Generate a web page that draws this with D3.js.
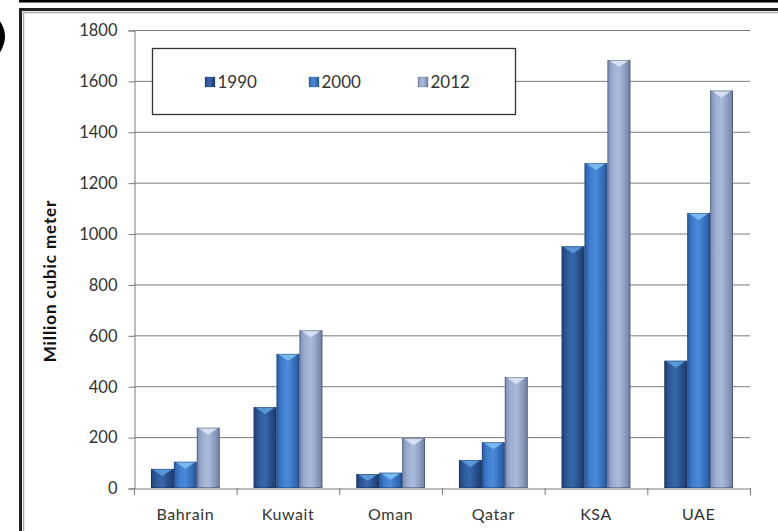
<!DOCTYPE html>
<html><head><meta charset="utf-8">
<script src="https://cdn.jsdelivr.net/npm/d3@7"></script>
<style>html,body{margin:0;padding:0;background:#fff;}svg{display:block;}</style>
</head><body>
<svg id="c" width="778" height="531"></svg>
<script>
const categories = ["Bahrain","Kuwait","Oman","Qatar","KSA","UAE"];
const seriesNames = ["1990","2000","2012"];
const v1990 = [75, 318, 55, 110, 950, 500];
const v2000 = [103, 527, 60, 180, 1277, 1081];
const v2012 = [237, 620, 196, 436, 1682, 1562];
const yTicks = [0,200,400,600,800,1000,1200,1400,1600,1800];
const yLabel = "Million cubic meter";

const values = [v1990, v2000, v2012];
const svg = d3.select("#c");
const font = "Lato, 'Open Sans', sans-serif";

// frame
svg.append("rect").attr("x",19).attr("y",0).attr("width",760).attr("height",2.5).attr("fill","#000");
svg.append("path").attr("d","M20.5,531 V9.5 H778").attr("fill","none").attr("stroke","#222").attr("stroke-width",3);
svg.append("path").attr("d","M23.5,531 V12.5 H778").attr("fill","none").attr("stroke","#aaa").attr("stroke-width",1.5);
// partial parenthesis on far left
svg.append("path").attr("d","M-4,16 Q14,36 -4,58 Q4,36 -4,16 Z").attr("fill","#000");

const x0 = d3.scaleBand().domain(categories).range([134,750]).padding(0);
const x1 = d3.scaleBand().domain(seriesNames).range([0,x0.bandwidth()]).paddingInner(0).paddingOuter(0.74);
const y = d3.scaleLinear().domain([0,1800]).range([488,30]);

// gradients
const defs = svg.append("defs");
const grads = [
  {id:"g0", stops:["#1f4277","#2e5c9c","#3767ab","#274f8a","#1b3c6c"], cap:"#5c9ee0"},
  {id:"g1", stops:["#2a5ea8","#3f7fd0","#4b8ada","#3670bc","#28569b"], cap:"#7dbff2"},
  {id:"g2", stops:["#7b8cb2","#9eb0d2","#aabbdb","#8e9fc3","#707f9f"], cap:"#dbe6f6"}
];
grads.forEach(g=>{
  const lg = defs.append("linearGradient").attr("id",g.id).attr("x1","0").attr("x2","1").attr("y1","0").attr("y2","0");
  g.stops.forEach((c,i)=>lg.append("stop").attr("offset",(i/(g.stops.length-1))).attr("stop-color",c));
});

// gridlines
svg.append("g").selectAll("line").data(yTicks.filter(t=>t>0)).join("line")
  .attr("x1",134).attr("x2",750).attr("y1",d=>y(d)+0.5).attr("y2",d=>y(d)+0.5)
  .attr("stroke","#7a7a7a").attr("stroke-width",1);

// y axis
const yAxis = d3.axisLeft(y).tickValues(yTicks).tickSize(6).tickPadding(11).tickFormat(d3.format("d"));
const ya = svg.append("g").attr("transform","translate(134.5,0.5)").call(yAxis);
ya.select(".domain").attr("stroke","#7a7a7a");
ya.selectAll(".tick line").attr("stroke","#7a7a7a");
ya.selectAll("text").attr("font-family",font).attr("font-size",16.5).attr("fill","#333");

// x axis
const xAxis = d3.axisBottom(x0).tickSize(0).tickPadding(20);
const xa = svg.append("g").attr("transform","translate(0,488.5)").call(xAxis);
xa.select(".domain").attr("stroke","#7a7a7a");
xa.selectAll("text").attr("font-family",font).attr("font-size",16).attr("letter-spacing",0.6).attr("fill","#333");
svg.append("g").selectAll("line").data(categories.concat(["end"])).join("line")
  .attr("x1",(d,i)=>134.5+i*x0.step()).attr("x2",(d,i)=>134.5+i*x0.step())
  .attr("y1",488).attr("y2",495).attr("stroke","#7a7a7a");

// bars
const groups = svg.append("g").selectAll("g").data(categories).join("g")
  .attr("transform",d=>`translate(${x0(d)},0)`);
seriesNames.forEach((s,si)=>{
  const bw = x1.bandwidth();
  groups.append("rect")
    .attr("x",x1(s)).attr("width",bw)
    .attr("y",(d,i)=>y(values[si][i])).attr("height",(d,i)=>y(0)-y(values[si][i]))
    .attr("fill",`url(#g${si})`);
  groups.append("path")
    .attr("d",(d,i)=>{
      const t=y(values[si][i]), l=x1(s), r=l+bw, cx=l+bw/2, h=Math.min(7,(y(0)-t));
      return `M${l+1},${t} L${r-1},${t} L${cx},${t+h} Z`;
    })
    .attr("fill",grads[si].cap).attr("opacity",0.9);
  groups.append("rect")
    .attr("x",x1(s)+0.5).attr("width",bw-1)
    .attr("y",(d,i)=>y(values[si][i])+0.5).attr("height",(d,i)=>Math.max(0,y(0)-y(values[si][i])-1))
    .attr("fill","none").attr("stroke","rgba(20,30,60,0.35)").attr("stroke-width",1);
});

// y label
svg.append("text").attr("transform","translate(56,281) rotate(-90)")
  .attr("text-anchor","middle").attr("font-family",font).attr("font-weight","bold")
  .attr("font-size",17).attr("letter-spacing",0.9).attr("fill","#111").text(yLabel);

// legend
svg.append("rect").attr("x",152.5).attr("y",48.5).attr("width",363).attr("height",66)
  .attr("fill","#fff").attr("stroke","#333").attr("stroke-width",1.3);
const legX = [205, 309, 418];
seriesNames.forEach((s,i)=>{
  svg.append("rect").attr("x",legX[i]).attr("y",77).attr("width",10).attr("height",10)
    .attr("fill",`url(#g${i})`).attr("stroke","rgba(20,30,60,0.4)").attr("stroke-width",0.5);
  svg.append("text").attr("x",legX[i]+12.5).attr("y",88).attr("font-family",font)
    .attr("font-size",17).attr("fill","#333").text(s);
});
</script>
</body></html>
